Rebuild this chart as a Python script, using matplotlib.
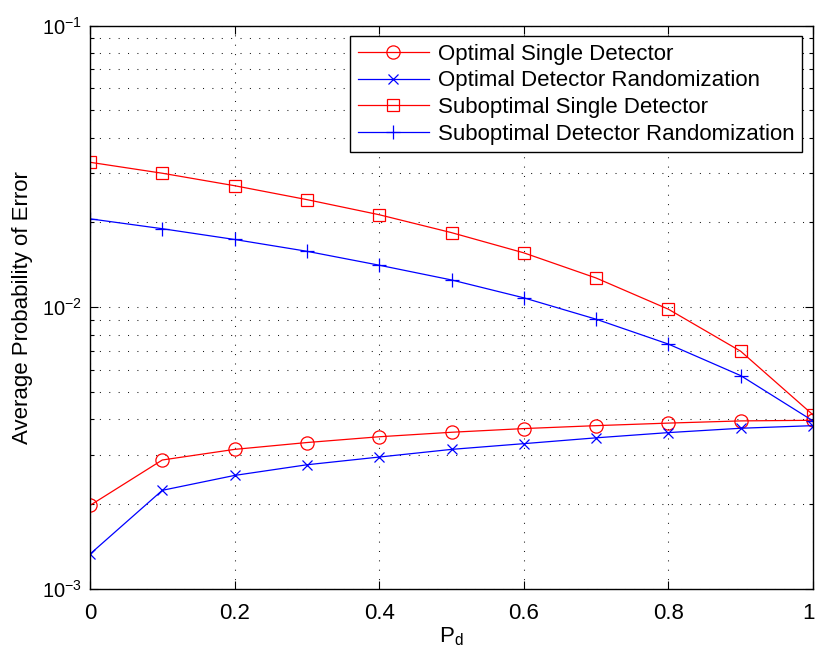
import matplotlib
matplotlib.use("Agg")
import matplotlib.pyplot as plt
from matplotlib.transforms import ScaledTranslation
from matplotlib.ticker import LogLocator, FixedLocator, FuncFormatter, NullFormatter

plt.rcParams["font.family"] = ["Liberation Sans", "DejaVu Sans"]
plt.rcParams["mathtext.fontset"] = "custom"
plt.rcParams["mathtext.rm"] = "Liberation Sans"
plt.rcParams["mathtext.it"] = "Liberation Sans:italic"
plt.rcParams["mathtext.bf"] = "Liberation Sans:bold"

# P_d sur l'axe x
pd_vals = [0.0, 0.1, 0.2, 0.3, 0.4, 0.5, 0.6, 0.7, 0.8, 0.9, 1.0]

# probabilites d'erreur moyennes
opt_single = [0.00198, 0.00287, 0.00313, 0.00331, 0.00347, 0.00360,
              0.00371, 0.00380, 0.00388, 0.00395, 0.00397]
opt_rand = [0.00133, 0.00224, 0.00253, 0.00276, 0.00294, 0.00313,
            0.00328, 0.00344, 0.00359, 0.00372, 0.00380]
subopt_single = [0.0327, 0.0299, 0.0270, 0.0241, 0.0213, 0.0184,
                 0.0156, 0.0127, 0.00984, 0.00698, 0.00415]
subopt_rand = [0.0206, 0.0190, 0.0174, 0.0158, 0.0141, 0.0125,
               0.0108, 0.00907, 0.00740, 0.00572, 0.00395]

labels = ["Optimal Single Detector", "Optimal Detector Randomization",
          "Suboptimal Single Detector", "Suboptimal Detector Randomization"]

FS = 16       # legende, labels, ticks x
FS_Y = 14.5   # ticks y (10^-n)

fig = plt.figure(figsize=(8.17, 6.54), dpi=100)
ax = fig.add_axes([90 / 817, 1 - 589 / 654, (813 - 90) / 817, (589 - 25.5) / 654])

lw = 0.9
ax.plot(pd_vals, opt_single, "-o", color="red", lw=lw, ms=9.5, mfc="none",
        mec="red", mew=0.9, label=labels[0])
ax.plot(pd_vals, opt_rand, "-x", color="blue", lw=lw, ms=7, mew=0.9,
        label=labels[1])
ax.plot(pd_vals, subopt_single, "-s", color="red", lw=lw, ms=8.5, mfc="none",
        mec="red", mew=0.9, label=labels[2])
ax.plot(pd_vals, subopt_rand, "-+", color="blue", lw=lw, ms=10, mew=0.9,
        label=labels[3])

ax.set_yscale("log")
ax.set_xlim(0, 1)
ax.set_ylim(1e-3, 1e-1)

ax.xaxis.set_major_locator(FixedLocator([0, 0.2, 0.4, 0.6, 0.8, 1.0]))
ax.xaxis.set_minor_locator(FixedLocator([0.1, 0.3, 0.5, 0.7, 0.9]))
ax.xaxis.set_major_formatter(FuncFormatter(lambda v, p: f"{v:g}"))
ax.yaxis.set_major_locator(LogLocator(base=10, numticks=10))
ax.yaxis.set_minor_locator(LogLocator(base=10, subs=range(2, 10), numticks=20))
ax.yaxis.set_minor_formatter(NullFormatter())

ax.tick_params(which="both", direction="in", top=True, right=True, width=0.8)
ax.tick_params(which="major", length=6)
ax.tick_params(which="minor", length=3)
ax.tick_params(axis="x", which="minor", length=0)
ax.tick_params(axis="x", pad=10, labelsize=FS)
ax.tick_params(axis="y", pad=6, labelsize=FS_Y)

grid_kw = dict(color="0.1", lw=0.75, linestyle=(0, (1, 8)))
ax.grid(True, which="major", axis="both", **grid_kw)
ax.grid(True, which="minor", axis="y", **grid_kw)

for s in ax.spines.values():
    s.set_linewidth(1.0)

ax.set_xlabel(r"P$_\mathrm{d}$", fontsize=FS, labelpad=1)
ax.set_ylabel("Average Probability of Error", fontsize=FS, labelpad=6.5)

leg = ax.legend(loc="upper right", fontsize=FS, numpoints=1, handlelength=3.2,
                handletextpad=0.4, labelspacing=0.25, borderaxespad=0.48,
                borderpad=0.35, fancybox=False, framealpha=1, edgecolor="black")
leg.get_frame().set_linewidth(1.0)

# le "1" du bord droit est un peu decale vers la gauche pour rester dans la figure
fig.canvas.draw()
last = ax.get_xticklabels()[-1]
last.set_transform(last.get_transform() + ScaledTranslation(-3 / 72, 0, fig.dpi_scale_trans))

fig.savefig("out.png", dpi=100)
